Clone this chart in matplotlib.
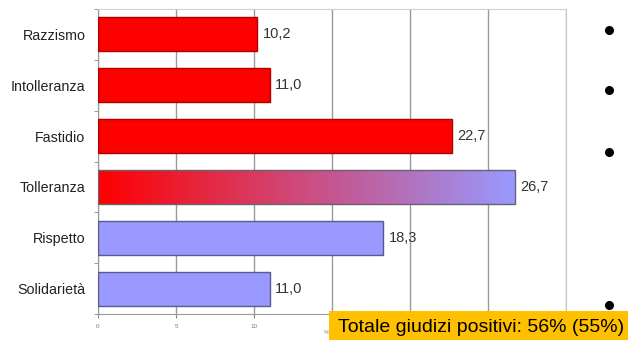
import numpy as np
import matplotlib
matplotlib.use("Agg")
import matplotlib.pyplot as plt
from matplotlib.colors import LinearSegmentedColormap
from matplotlib.patches import Rectangle
from matplotlib.lines import Line2D

plt.rcParams['font.family'] = ['Liberation Sans', 'DejaVu Sans']

categories = ["Razzismo", "Intolleranza", "Fastidio", "Tolleranza", "Rispetto", "Solidarietà"]
values = [10.2, 11.0, 22.7, 26.7, 18.3, 11.0]
value_labels = ["10,2", "11,0", "22,7", "26,7", "18,3", "11,0"]
groups = ["neg", "neg", "neg", "mid", "pos", "pos"]
x_ticks = [0, 5, 10, 15, 20, 25, 30]
x_tick_labels = ["0", "5", "10", "", "", "", ""]  # the rest sit under the note box
note = "Totale giudizi positivi: 56% (55%)"

RED = "#FF0000"
BLUE = "#9999FF"
fill = {"neg": RED, "pos": BLUE}
edge = {"neg": "#B00000", "pos": "#5A5A8C", "mid": "#6A6070"}

fig = plt.figure(figsize=(6.28, 3.40), dpi=100)
ax = fig.add_axes([98/628, 1-314/340, (566-98)/628, (314-9)/340])

y = np.arange(len(categories))
bar_h = 0.67
grad = LinearSegmentedColormap.from_list("red_to_blue", [RED, BLUE])

for yi, v, g, lab in zip(y, values, groups, value_labels):
    if g == "mid":
        rect = Rectangle((0, yi - bar_h/2), v, bar_h, facecolor="none",
                         edgecolor=edge[g], linewidth=1.0, zorder=4)
        ax.add_patch(rect)
        img = ax.imshow(np.linspace(0, 1, 256).reshape(1, -1), cmap=grad,
                        extent=(0, v, yi + bar_h/2, yi - bar_h/2),
                        aspect="auto", zorder=3, interpolation="bilinear")
        clip = Rectangle((0, yi - bar_h/2), v, bar_h, transform=ax.transData)
        img.set_clip_path(clip)
    else:
        ax.barh(yi, v, height=bar_h, color=fill[g], edgecolor=edge[g],
                linewidth=1.0, zorder=3)
    ax.text(v + 0.35, yi, lab, va="center", ha="left", fontsize=10.5,
            color="#333333", zorder=5)

ax.set_xlim(0, 30)
ax.set_ylim(len(categories) - 0.5, -0.5)
ax.set_xticks(x_ticks)
ax.set_xticklabels(x_tick_labels, fontsize=4.5, color="#777777")
ax.set_yticks(y)
ax.set_yticklabels(categories, fontsize=10.3, color="#222222")
ax.set_yticks(np.arange(len(categories) + 1) - 0.5, minor=True)
ax.tick_params(axis="y", which="major", length=0, pad=9)
ax.tick_params(axis="y", which="minor", length=3, color="#888888", direction="out")
ax.tick_params(axis="x", length=3, color="#888888", pad=4)

ax.grid(axis="x", color="#9A9A9A", linewidth=1.0, zorder=0)
ax.set_axisbelow(True)
for s in ["left", "bottom"]:
    ax.spines[s].set_color("#999999")
ax.spines["top"].set_color("#D0D0D0")
ax.spines["right"].set_color("#C8C8C8")

# axis unit, tucked behind the note box
fig.text(327/628, 1-333/340, "%", fontsize=4.5, color="#888888",
         ha="center", va="center", zorder=1)

# bullets on the right
bullet_y = [30, 90, 152, 305]
fig.add_artist(Line2D([609/628] * len(bullet_y), [1 - b/340 for b in bullet_y],
                      transform=fig.transFigure, linestyle="none", marker="o",
                      markersize=6.5, markerfacecolor="black", markeredgecolor="none"))

# highlighted note
box = Rectangle((329/628, 0), 1 - 329/628, (340-311)/340, transform=fig.transFigure,
                facecolor="#FFC000", edgecolor="none", zorder=5)
fig.patches.append(box)
fig.text(338/628, 1-327/340, note, fontsize=14, color="black",
         ha="left", va="center", zorder=6)

fig.savefig("out.png", dpi=100)
